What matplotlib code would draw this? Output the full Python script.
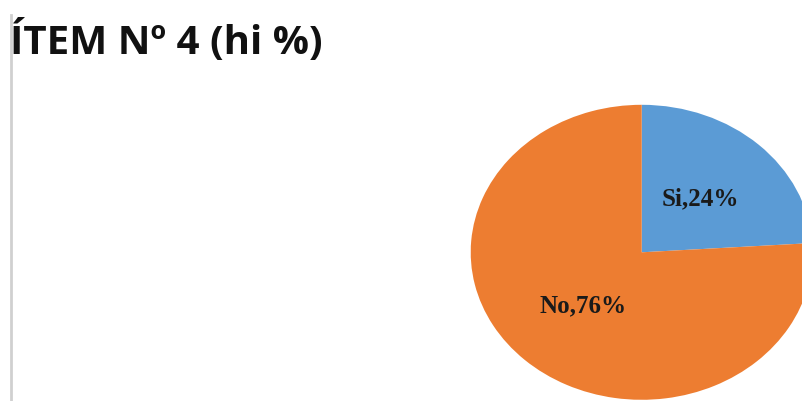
import matplotlib
matplotlib.use('Agg')
import matplotlib.pyplot as plt
from matplotlib.lines import Line2D

# data
categories = ['Si', 'No']
percentages = [24, 76]
colors = ['#5B9BD5', '#ED7D31']

W, H = 803, 401
fig = plt.figure(figsize=(W / 100, H / 100), dpi=100)
fig.patch.set_facecolor('white')

# left border line
fig.add_artist(Line2D([11 / W, 11 / W], [0, (H - 15) / H], transform=fig.transFigure,
                      color='#d0d0d0', lw=2))

fig.text(10 / W, (H - 54) / H, 'ÍTEM Nº 4 (hi %)', fontsize=29, fontweight='bold',
         family=['Open Sans', 'DejaVu Sans'], ha='left', va='baseline', color='#111111')

# pie area (ellipse stretched, partly off the right edge)
cx, cy, rx, ry = 641.7, 252.3, 171, 147.5
ax = fig.add_axes([(cx - rx) / W, (H - cy - ry) / H, 2 * rx / W, 2 * ry / H])
labels = [f'{c},{p}%' for c, p in zip(categories, percentages)]
wedges, texts = ax.pie(percentages, labels=labels, colors=colors, startangle=90,
                       counterclock=False, labeldistance=0.5,
                       wedgeprops=dict(linewidth=0),
                       textprops=dict(fontsize=18, fontweight='bold',
                                      family='Liberation Serif', color='#1a1a1a'))
for t in texts:
    t.set_ha('center')
    t.set_va('center')
ax.set_aspect('auto')
ax.set_xlim(-1, 1)
ax.set_ylim(-1, 1)
ax.axis('off')

fig.savefig('out.png', dpi=100, facecolor='white')
